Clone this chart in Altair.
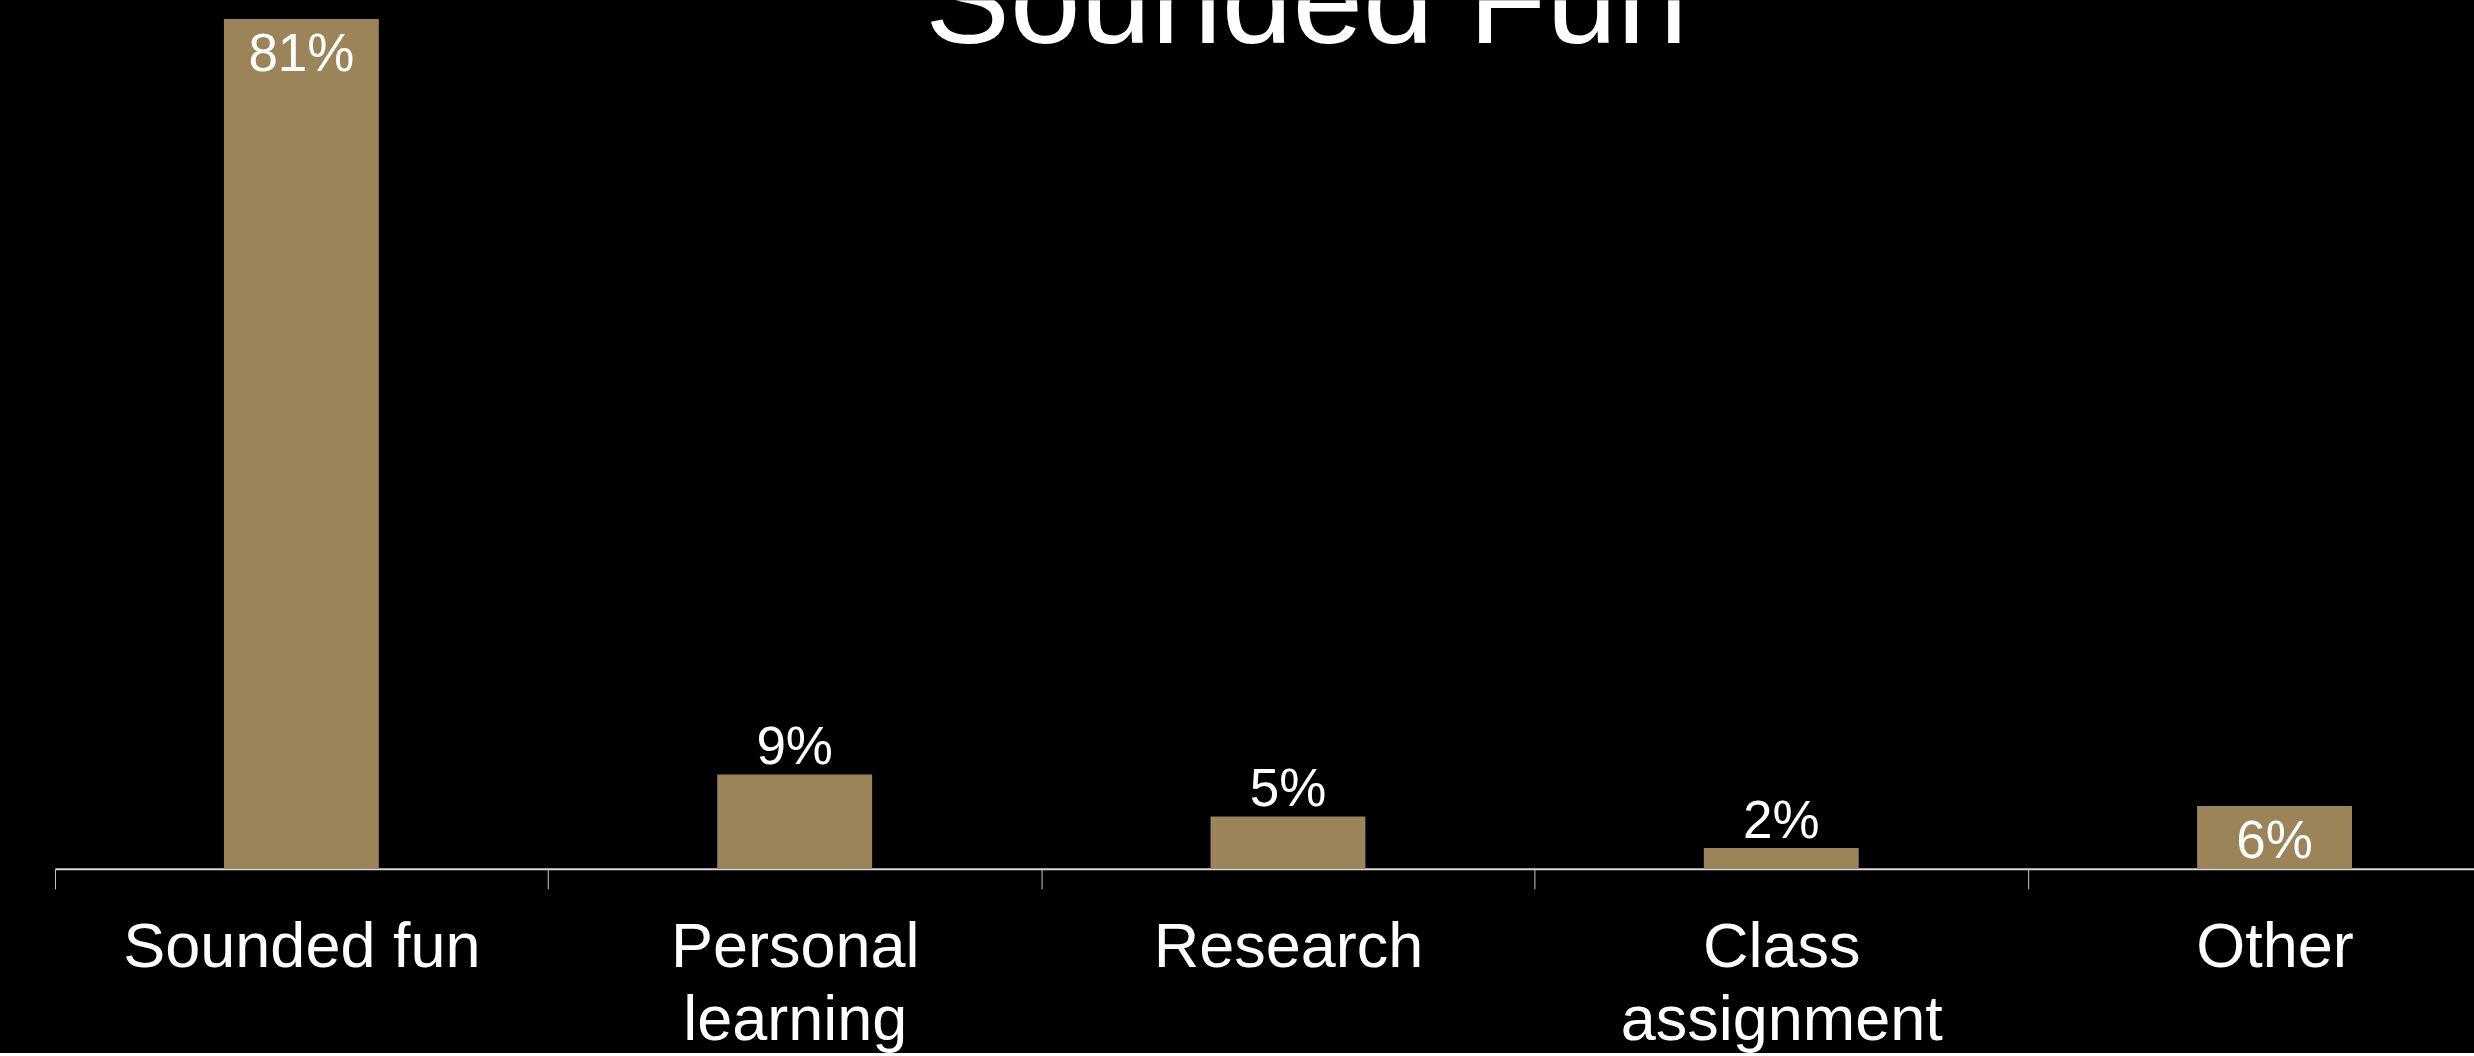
import altair as alt
import pandas as pd

title_text = "Sounded Fun"
categories = ["Sounded fun", "Personal learning", "Research", "Class assignment", "Other"]
values = [81, 9, 5, 2, 6]
labels = ["81%", "9%", "5%", "2%", "6%"]
inside = [True, False, False, False, True]

df = pd.DataFrame({"cat": categories, "val": values, "lab": labels, "inside": inside})
tdf = pd.DataFrame({"t": [title_text]})

FONT = "Liberation Sans"
BAR = "#9c8459"

x = alt.X(
    "cat:N",
    sort=categories,
    title=None,
    scale=alt.Scale(paddingInner=0.686, paddingOuter=0.2949, align=0.5807),
    axis=alt.Axis(
        labelAngle=0,
        labelFont=FONT,
        labelFontSize=63,
        labelColor="white",
        labelPadding=28,
        labelLimit=600,
        labelLineHeight=73,
        labelExpr="length(datum.value) > 12 ? split(datum.value, ' ') : datum.value",
        tickSize=20,
        tickColor="#c8c8c8",
        tickWidth=1,
        tickOffset=-246.75,
        labelOffset=246.75,
        domainColor="#d9d9d9",
        domainWidth=2,
        grid=False,
    ),
)
y = alt.Y("val:Q", axis=None, scale=alt.Scale(domain=[0, 82.8], nice=False))

bars = alt.Chart(df).mark_bar(color=BAR).encode(x=x, y=y)

above = alt.Chart(df).transform_filter("!datum.inside").mark_text(
    font=FONT, fontSize=53, color="white", baseline="middle", dy=-26
).encode(x=x, y=y, text="lab:N")

inner = alt.Chart(df).transform_filter("datum.inside").mark_text(
    font=FONT, fontSize=53, color="white", baseline="middle", dy=36
).encode(x=x, y=y, text="lab:N")

title = alt.Chart(tdf).mark_text(
    font=FONT, fontSize=127, color="white", baseline="alphabetic", align="center", clip=True
).encode(x=alt.value(1252), y=alt.value(43), text="t:N")

chart = (
    alt.layer(bars, above, inner, title)
    .properties(
        width=2420,
        height=869,
        background="black",
        padding={"left": 54, "top": 0, "right": 0, "bottom": 0},
    )
    .configure_view(stroke=None)
)

chart.save("out.html", embed_options={"renderer": "svg", "actions": False})
